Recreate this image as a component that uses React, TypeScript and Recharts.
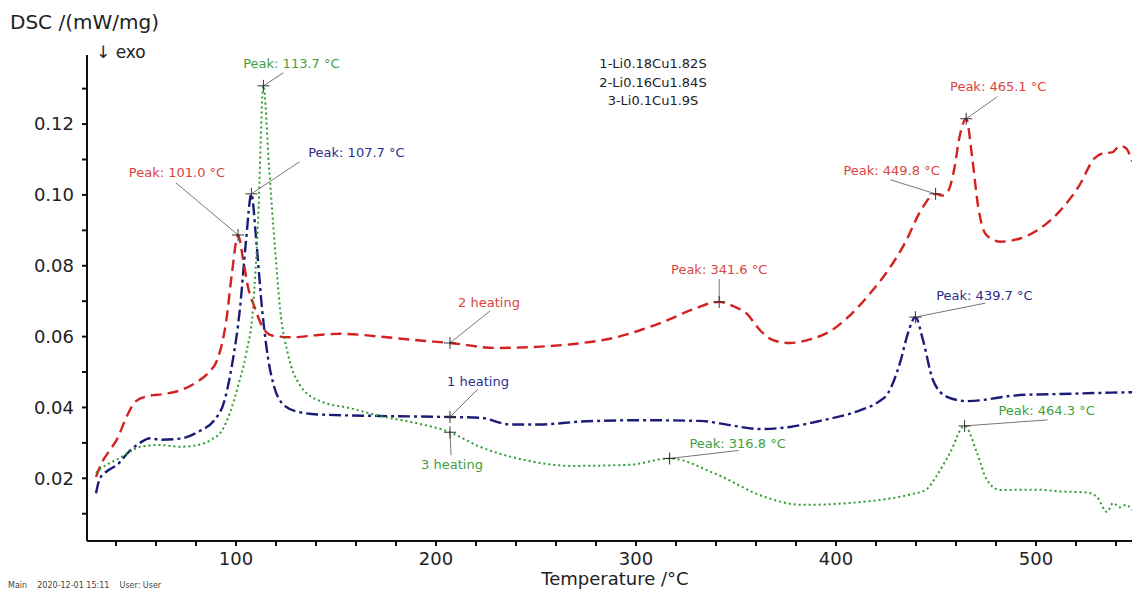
import React from 'react';
import {LineChart, Line, XAxis, YAxis, ReferenceDot} from 'recharts';

const FONT = '"DejaVu Sans", "Liberation Sans", sans-serif';

// [temperature °C, DSC mW/mg]
const heating1: [number, number][] = [
  [30, 0.0158], [32, 0.02], [36, 0.0222], [40.5, 0.0238], [47, 0.0278],
  [52, 0.03], [57, 0.0313], [62, 0.0309], [72, 0.0312], [82, 0.0334],
  [89, 0.0363], [94, 0.0415], [98, 0.052], [102, 0.068], [105, 0.087],
  [107.7, 0.1003], [110, 0.088], [113, 0.068], [116, 0.054], [119, 0.046],
  [123, 0.0412], [130, 0.0389], [142, 0.038], [172, 0.0376], [207, 0.0373],
  [222, 0.0371], [237, 0.0352], [252, 0.0352], [272, 0.036], [302, 0.0364],
  [332, 0.0362], [347, 0.035], [362, 0.0339], [377, 0.0345], [392, 0.0362],
  [412, 0.0392], [421, 0.0415], [426, 0.044], [432, 0.0526], [436, 0.061],
  [439.7, 0.0655], [443.5, 0.059], [448.5, 0.0477], [455.5, 0.043],
  [465.5, 0.0418], [492, 0.0435], [512, 0.0438], [532, 0.0441], [548, 0.0443],
];

const heating2: [number, number][] = [
  [30, 0.0204], [33, 0.0245], [37, 0.028], [40.5, 0.031], [45, 0.037],
  [50, 0.0418], [56, 0.0432], [64, 0.0438], [72, 0.0448], [80, 0.047],
  [86, 0.0497], [91, 0.054], [95, 0.064], [98, 0.078], [101.0, 0.0887],
  [103.5, 0.082], [106, 0.074], [109.5, 0.068], [113, 0.063], [118, 0.0603],
  [128, 0.0598], [140, 0.0604], [152, 0.0608], [172, 0.06], [192, 0.0589],
  [207, 0.0582], [230, 0.0568], [250, 0.0571], [270, 0.058], [288.5, 0.0596],
  [302, 0.0618], [313.5, 0.0641], [328, 0.0676], [341.6, 0.0698],
  [349, 0.0685], [355.5, 0.0664], [362, 0.0618], [368.5, 0.059], [377, 0.0582],
  [387, 0.0592], [397, 0.0615], [407, 0.066], [417, 0.0722], [427, 0.0795],
  [435, 0.087], [442, 0.0952], [449.8, 0.1003], [453, 0.0998], [456, 0.101],
  [459, 0.107], [462, 0.117], [465.1, 0.1215], [468, 0.111], [471, 0.097],
  [475, 0.0888], [482, 0.0868], [492, 0.0877], [502, 0.0905], [512, 0.0955],
  [522, 0.103], [529, 0.1102], [534, 0.1118], [538, 0.112], [542, 0.1138],
  [545, 0.1132], [548, 0.1095],
];

const heating3: [number, number][] = [
  [30, 0.0215], [32, 0.0226], [37, 0.0243], [42, 0.0258], [47, 0.0275],
  [52, 0.0289], [62, 0.0294], [72, 0.0289], [80, 0.0293], [88, 0.031],
  [93, 0.0335], [97, 0.0385], [101, 0.046], [105, 0.055], [108.5, 0.068],
  [111, 0.092], [113.7, 0.1308], [116.5, 0.108], [119.5, 0.085], [122, 0.068],
  [126, 0.055], [132, 0.0463], [142, 0.0418], [157, 0.0398], [172, 0.0376],
  [190, 0.0356], [207, 0.033], [222, 0.0289], [244, 0.0252], [268, 0.0235],
  [296.5, 0.0238], [316.8, 0.0256], [340, 0.0212], [364, 0.0148],
  [383, 0.0125], [412, 0.0133], [436, 0.0153], [445, 0.0168], [450, 0.0204],
  [457, 0.0272], [464.3, 0.0348], [470.5, 0.0272], [475.5, 0.0195],
  [482, 0.0167], [500, 0.0168], [512, 0.0163], [525.5, 0.016], [530.5, 0.0147],
  [535.5, 0.0105], [538.5, 0.013], [542, 0.0118], [545, 0.0125], [548, 0.011],
];

const sampleNames = ['1-Li0.18Cu1.82S', '2-Li0.16Cu1.84S', '3-Li0.1Cu1.9S'];

// series index, temperature, value, text
const notes: [number, number, number, string][] = [
  [3, 113.7, 0.1308, 'Peak: 113.7 °C'],
  [1, 107.7, 0.1003, 'Peak: 107.7 °C'],
  [2, 101.0, 0.0887, 'Peak: 101.0 °C'],
  [2, 207, 0.0582, '2 heating'],
  [1, 207, 0.0373, '1 heating'],
  [3, 207, 0.033, '3 heating'],
  [2, 341.6, 0.0698, 'Peak: 341.6 °C'],
  [3, 316.8, 0.0256, 'Peak: 316.8 °C'],
  [2, 449.8, 0.1003, 'Peak: 449.8 °C'],
  [2, 465.1, 0.1215, 'Peak: 465.1 °C'],
  [1, 439.7, 0.0655, 'Peak: 439.7 °C'],
  [3, 464.3, 0.0348, 'Peak: 464.3 °C'],
];

const xTicks = [40, 60, 80, 100, 120, 140, 160, 180, 200, 220, 240, 260, 280, 300,
  320, 340, 360, 380, 400, 420, 440, 460, 480, 500, 520, 540];
const yTicks = [0.01, 0.02, 0.03, 0.04, 0.05, 0.06, 0.07, 0.08, 0.09, 0.1, 0.11, 0.12, 0.13];

// label placement (pixels from the marked point): text centre, then leader start
const noteLayout = [
  [28, -22, 20, -13],
  [105, -41, 48, -32],
  [-61, -62, -62, -52],
  [39, -40, 40, -32],
  [28, -36, 28, -28],
  [2, 32, 1, 23],
  [0, -32, 0, -23],
  [68, -15, 69, -8],
  [-44, -23, -45, -14],
  [32, -32, 31, -22],
  [69, -22, 70, -14],
  [82, -15, 83, -6],
];

const lineColor: Record<number, string> = {1: '#1c1c78', 2: '#d42020', 3: '#2f9a2f'};
const textColor: Record<number, string> = {1: '#2c2c8c', 2: '#d9453c', 3: '#3f9f3f'};
const dash: Record<number, string> = {1: '12 4 3 4', 2: '11 6', 3: '2 3'};

const series = [
  {id: 1, data: heating1},
  {id: 2, data: heating2},
  {id: 3, data: heating3},
];

const PeakNote = ({cx, cy, layout, text, color}: any) => {
  const [tx, ty, lx, ly] = layout;
  return (
    <g>
      <line x1={cx + lx} y1={cy + ly} x2={cx} y2={cy} stroke='#777' strokeWidth={1} />
      <line x1={cx - 6} y1={cy} x2={cx + 6} y2={cy} stroke='#333' strokeWidth={1} />
      <line x1={cx} y1={cy - 6} x2={cx} y2={cy + 6} stroke='#333' strokeWidth={1} />
      <text x={cx + tx} y={cy + ty} textAnchor='middle' dominantBaseline='central'
        fill={color} fontSize={13} fontFamily={FONT}>{text}</text>
    </g>
  );
};

export default function App() {
  return (
    <div style={{position: 'absolute', left: 0, top: 0, width: 1132, height: 590,
      background: '#fff', fontFamily: FONT, color: '#222'}}>
      <LineChart width={1132} height={590} margin={{top: 55, right: 0, bottom: 0, left: 0}}>
        <XAxis type='number' dataKey='t' domain={[25.5, 548]} allowDataOverflow
          ticks={xTicks} interval={0} height={49}
          tickFormatter={(v: number) => (v % 100 === 0 ? String(v) : '')}
          stroke='#111' strokeWidth={2} tickSize={5} tickMargin={6}
          tick={{fill: '#222', fontSize: 18, fontFamily: FONT}} />
        <YAxis type='number' domain={[0.0023, 0.1395]} allowDataOverflow
          ticks={yTicks} interval={0} width={87}
          tickFormatter={(v: number) => (Math.round(v * 100) % 2 === 0 ? v.toFixed(2) : '')}
          stroke='#111' strokeWidth={2} tickSize={5} tickMargin={8}
          tick={{fill: '#222', fontSize: 18, fontFamily: FONT}} />
        {series.map((s) => (
          <Line key={s.id} data={s.data.map(([t, v]) => ({t, v}))} dataKey='v'
            type='monotone' stroke={lineColor[s.id]} strokeWidth={s.id === 3 ? 2 : 2.4}
            strokeDasharray={dash[s.id]} dot={false} activeDot={false}
            isAnimationActive={false} />
        ))}
        {notes.map(([sid, t, v, text], i) => (
          <ReferenceDot key={i} x={t} y={v} r={0} ifOverflow='visible'
            shape={(p: any) => (
              <PeakNote cx={p.cx} cy={p.cy} layout={noteLayout[i]} text={text}
                color={textColor[sid]} />
            )} />
        ))}
      </LineChart>

      <div style={{position: 'absolute', left: 10, top: 11, fontSize: 20, lineHeight: '22px'}}>
        DSC /(mW/mg)
      </div>
      <div style={{position: 'absolute', left: 96, top: 42, fontSize: 17, lineHeight: '20px'}}>
        ↓ exo
      </div>
      <div style={{position: 'absolute', left: 553, top: 55, width: 200, textAlign: 'center',
        fontSize: 13, lineHeight: '18.5px'}}>
        {sampleNames.map((n) => (
          <div key={n}>{n}</div>
        ))}
      </div>
      <div style={{position: 'absolute', left: 465, top: 571, width: 300, textAlign: 'center',
        fontSize: 18, lineHeight: '16px'}}>
        Temperature /°C
      </div>
      <div style={{position: 'absolute', left: 8, top: 581, fontSize: 8, lineHeight: '10px',
        color: '#444', whiteSpace: 'pre'}}>
        {'Main    2020-12-01 15:11    User: User'}
      </div>
    </div>
  );
}
